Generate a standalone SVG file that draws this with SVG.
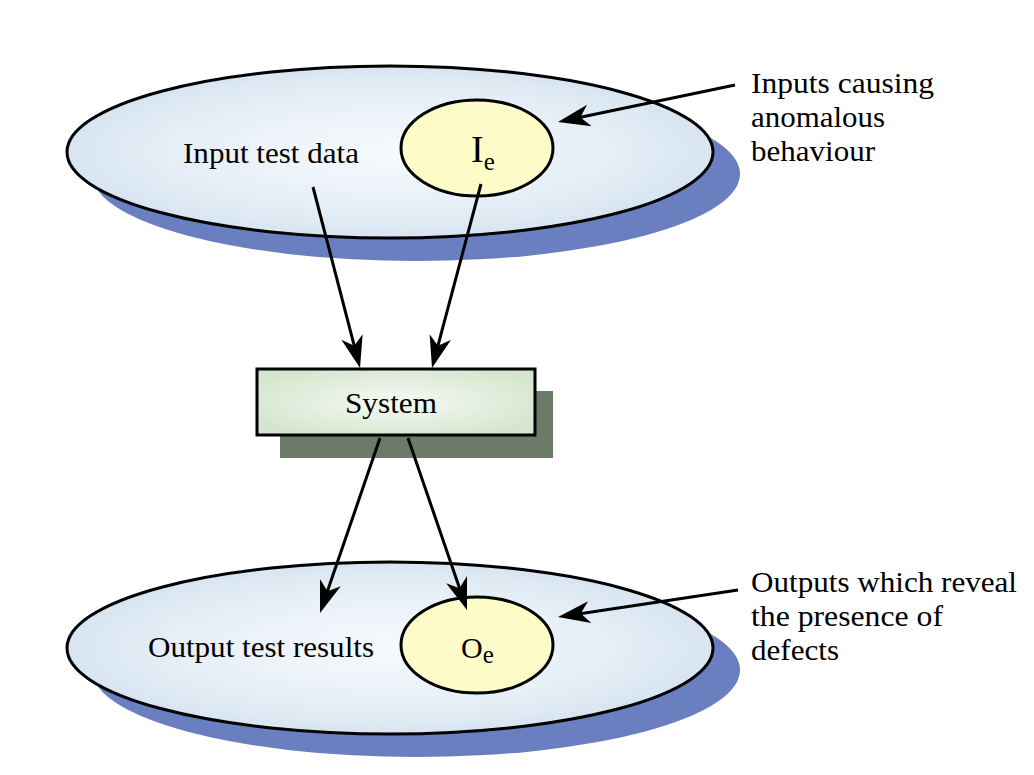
<svg xmlns="http://www.w3.org/2000/svg" width="1034" height="775" viewBox="0 0 1034 775">
<style>
.t{font-family:"Liberation Serif","Times New Roman",serif;font-size:30px;fill:#000}
.big{fill:url(#blueG);stroke:#000;stroke-width:3}
.shadow{fill:#6a7fbf}
.small{fill:#fdfcc8;stroke:#000;stroke-width:3}
.conn{stroke:#000;stroke-width:3;fill:none;marker-end:url(#ah)}
</style>
<defs>
<radialGradient id="blueG" cx="0.5" cy="0.5" r="0.55">
<stop offset="0" stop-color="#f7fafd"/>
<stop offset="0.6" stop-color="#e6eff7"/>
<stop offset="1" stop-color="#d3e2ef"/>
</radialGradient>
<radialGradient id="greenG" cx="0.5" cy="0.5" r="0.6">
<stop offset="0" stop-color="#f6faf4"/>
<stop offset="1" stop-color="#d3e5cc"/>
</radialGradient>
<marker id="ah" markerUnits="userSpaceOnUse" viewBox="-34 -12 36 24" markerWidth="36" markerHeight="24" refX="-12" refY="0" orient="auto">
<path d="M0,0 L-32,-11 L-23,0 L-32,11 Z" fill="#000"/>
</marker>
</defs>
<rect width="1034" height="775" fill="#fff"/>
<g id="input-domain">
<ellipse class="shadow" cx="416" cy="174" rx="324" ry="87"/>
<ellipse class="big" cx="390" cy="152" rx="323" ry="86"/>
<text class="t" x="183" y="163" textLength="176" lengthAdjust="spacingAndGlyphs">Input test data</text>
</g>
<g id="ie">
<ellipse class="small" cx="477" cy="148" rx="76" ry="48"/>
<text class="t" x="471" y="162" style="font-size:38px">I<tspan dy="8" style="font-size:25px">e</tspan></text>
</g>
<g id="output-domain">
<ellipse class="shadow" cx="416" cy="670" rx="324" ry="87"/>
<ellipse class="big" cx="390" cy="648" rx="323" ry="86"/>
<text class="t" x="148" y="657" textLength="226" lengthAdjust="spacingAndGlyphs">Output test results</text>
</g>
<g id="oe">
<ellipse class="small" cx="477" cy="645" rx="76" ry="48"/>
<text class="t" x="461" y="658" style="font-size:30px">O<tspan dy="5" style="font-size:25px">e</tspan></text>
</g>
<g id="system">
<rect x="280" y="391" width="273" height="67" fill="#6b7b67"/>
<rect x="257" y="369" width="278" height="66" fill="url(#greenG)" stroke="#000" stroke-width="3"/>
<text class="t" x="391" y="413" text-anchor="middle" textLength="92" lengthAdjust="spacingAndGlyphs">System</text>
</g>
<g id="label-inputs">
<text class="t" x="751" y="93" textLength="183" lengthAdjust="spacingAndGlyphs">Inputs causing</text>
<text class="t" x="751" y="127" textLength="134" lengthAdjust="spacingAndGlyphs">anomalous</text>
<text class="t" x="751" y="161" textLength="124" lengthAdjust="spacingAndGlyphs">behaviour</text>
</g>
<g id="label-outputs">
<text class="t" x="751" y="592" textLength="266" lengthAdjust="spacingAndGlyphs">Outputs which reveal</text>
<text class="t" x="751" y="626" textLength="192" lengthAdjust="spacingAndGlyphs">the presence of</text>
<text class="t" x="751" y="660" textLength="88" lengthAdjust="spacingAndGlyphs">defects</text>
</g>
<g id="connectors">
<line class="conn" x1="313" y1="187" x2="357" y2="356.4"/>
<line class="conn" x1="481" y1="184" x2="435.1" y2="356.4"/>
<line class="conn" x1="380" y1="438" x2="323.9" y2="601.6"/>
<line class="conn" x1="408" y1="438" x2="463.1" y2="598.6"/>
<line class="conn" x1="735" y1="85" x2="569.7" y2="119.5"/>
<line class="conn" x1="738" y1="590" x2="569.9" y2="615.2"/>
</g>
</svg>
